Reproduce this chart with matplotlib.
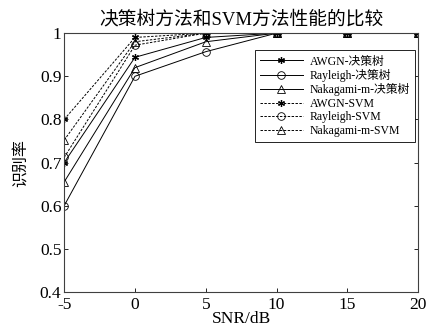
import numpy as np
import matplotlib
matplotlib.use("Agg")
import matplotlib.pyplot as plt

plt.rcParams['font.family'] = ['Liberation Serif', 'Noto Sans CJK SC']
plt.rcParams['axes.unicode_minus'] = False

snr = [-5, 0, 5, 10, 15, 20]
awgn_tree = [0.70, 0.944, 0.99, 1, 1, 1]
rayleigh_tree = [0.60, 0.90, 0.957, 1, 1, 1]
nakagami_tree = [0.655, 0.92, 0.98, 1, 1, 1]
awgn_svm = [0.80, 0.99, 1, 1, 1, 1]
rayleigh_svm = [0.712, 0.972, 1, 1, 1, 1]
nakagami_svm = [0.752, 0.98, 1, 1, 1, 1]

labels = ['AWGN-决策树', 'Rayleigh-决策树', 'Nakagami-m-决策树',
          'AWGN-SVM', 'Rayleigh-SVM', 'Nakagami-m-SVM']

fig = plt.figure(figsize=(4.28, 3.28), dpi=100)
ax = fig.add_axes([0.150, 0.110, 0.827, 0.789])

lw = 0.7
star = (6, 2, 0)
ax.plot(snr, awgn_tree, 'k-', marker=star, ms=5, mew=0.9, lw=lw, label=labels[0])
ax.plot(snr, rayleigh_tree, 'k-', marker='o', ms=5.5, mfc='none', mew=0.6, lw=lw, label=labels[1])
ax.plot(snr, nakagami_tree, 'k-', marker='^', ms=6, mfc='none', mew=0.6, lw=lw, label=labels[2])
ax.plot(snr, awgn_svm, 'k--', marker=star, ms=5, mew=0.9, lw=lw, dashes=(2.5, 1.5), label=labels[3])
ax.plot(snr, rayleigh_svm, 'k--', marker='o', ms=5.5, mfc='none', mew=0.6, lw=lw, dashes=(2.5, 1.5), label=labels[4])
ax.plot(snr, nakagami_svm, 'k--', marker='^', ms=6, mfc='none', mew=0.6, lw=lw, dashes=(2.5, 1.5), label=labels[5])

ax.set_xlim(-5, 20)
ax.set_ylim(0.4, 1)
ax.set_xticks(snr)
ax.set_xticklabels(['-5', '0', '5', '10', '15', '20'])
ax.set_yticks([0.4, 0.5, 0.6, 0.7, 0.8, 0.9, 1])
ax.set_yticklabels(['0.4', '0.5', '0.6', '0.7', '0.8', '0.9', '1'])
ax.tick_params(direction='in', top=True, right=True, labelsize=12.5, length=3, width=0.6)
ax.tick_params(axis='x', pad=3.5)
ax.tick_params(axis='y', pad=2)
for s in ax.spines.values():
    s.set_linewidth(0.8)
    s.set_color('#404040')

ax.set_title('决策树方法和SVM方法性能的比较', fontsize=13.5, pad=6)
ax.set_xlabel('SNR/dB', fontsize=12.5, labelpad=-1)
ax.set_ylabel('识别率', fontsize=11.5, labelpad=7)

leg = ax.legend(loc='upper right', bbox_to_anchor=(0.992, 0.934), borderaxespad=0,
                fontsize=8.5, frameon=True, fancybox=False, edgecolor='k',
                framealpha=1, handlelength=3.6, handletextpad=0.6,
                labelspacing=0.12, borderpad=0.45)
leg.get_frame().set_linewidth(0.6)

fig.savefig('out.png', dpi=100)
